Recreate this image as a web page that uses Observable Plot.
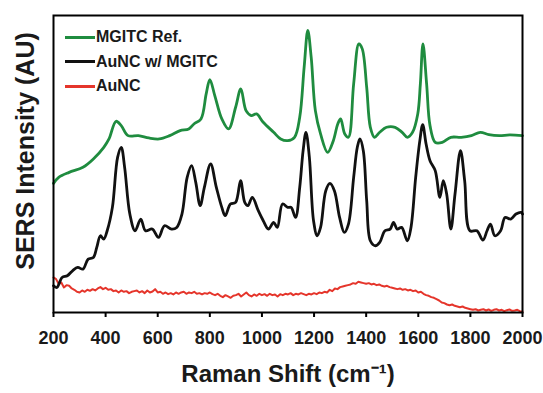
<!DOCTYPE html>
<html>
<head>
<meta charset="utf-8">
<script src="https://cdn.jsdelivr.net/npm/d3@7"></script>
<script src="https://cdn.jsdelivr.net/npm/@observablehq/plot@0.6"></script>
<style>
  html, body { margin: 0; padding: 0; background: #fff; }
  #wrap { position: relative; width: 543px; height: 393px; overflow: hidden; font-family: "Liberation Sans", Arial, sans-serif; }
  #legend { position: absolute; left: 65px; top: 25px; }
  .row { display: flex; align-items: center; height: 24.5px; font-size: 16px; font-weight: bold; color: #1a1a1a; }
  .sw { width: 30px; height: 3px; margin-right: 1px; }
</style>
</head>
<body>
<div id="wrap"><div id="legend"></div></div>
<script>
// Tick labels
const xTicks = [200, 400, 600, 800, 1000, 1200, 1400, 1600, 1800, 2000];
const seriesNames = ["MGITC Ref.", "AuNC w/ MGITC", "AuNC"];
const seriesColors = ["#1f8c3f", "#111111", "#e5352b"];

// MGITC Ref. (green)
const greenX = [200,220,260,313,353,393,413,440,460,486,526,566,606,646,686,719,739,766,786,800,819,846,872,899,919,939,959,979,1005,1045,1072,1099,1125,1145,1162,1176,1189,1205,1225,1252,1274,1291,1302,1318,1332,1352,1372,1385,1402,1416,1432,1452,1478,1511,1538,1558,1578,1598,1608,1618,1632,1645,1665,1692,1725,1765,1804,1838,1871,1911,1951,2000];
const greenY = [387,405,420,435,460,495,520,573,560,530,530,523,520,530,545,550,565,580,655,698,650,580,550,615,670,605,590,595,570,540,520,515,525,585,735,845,765,605,535,480,515,565,580,535,525,685,805,790,675,555,525,540,555,555,540,525,540,595,685,805,685,560,510,510,525,525,530,540,533,530,532,530];

// AuNC w/ MGITC (black)
const blackX = [200,213,233,253,273,293,313,333,353,366,380,393,406,426,446,460,473,493,513,535,553,579,603,626,653,673,693,713,730,746,763,779,803,825,846,859,879,899,918,934,946,963,986,1005,1025,1045,1059,1079,1099,1112,1129,1145,1158,1169,1182,1198,1212,1225,1245,1261,1278,1298,1316,1332,1352,1366,1376,1389,1402,1416,1435,1452,1472,1492,1505,1519,1536,1558,1572,1590,1606,1617,1630,1645,1665,1683,1696,1709,1725,1741,1762,1778,1798,1825,1848,1864,1877,1894,1916,1933,1955,1975,1995,2000];
const blackY = [80,75,105,110,125,135,130,160,165,195,230,220,245,315,465,495,435,295,245,280,245,250,225,260,250,255,295,405,440,390,320,375,445,375,315,290,325,330,395,330,320,345,305,275,250,270,255,325,315,315,285,375,485,540,465,275,230,255,365,387,365,285,240,265,405,495,520,485,335,215,200,210,245,250,270,250,255,215,255,405,515,563,505,455,425,345,395,355,250,355,485,395,245,245,217,245,265,230,245,285,280,295,300,295];

// AuNC (red)
const redX = [200,210,220,230,240,250,260,270,280,290,300,310,320,330,340,350,360,370,380,390,400,410,420,430,440,450,460,470,480,490,500,510,520,530,540,550,560,570,580,590,600,610,620,630,640,650,660,670,680,690,700,710,720,730,740,750,760,770,780,790,800,810,820,830,840,850,860,870,880,890,900,910,920,930,940,950,960,970,980,990,1000,1010,1020,1030,1040,1050,1060,1070,1080,1090,1100,1110,1120,1130,1140,1150,1160,1170,1180,1190,1200,1210,1220,1230,1240,1250,1260,1270,1280,1290,1300,1310,1320,1330,1340,1350,1360,1370,1380,1390,1400,1410,1420,1430,1440,1450,1460,1470,1480,1490,1500,1510,1520,1530,1540,1550,1560,1570,1580,1590,1600,1610,1620,1630,1640,1650,1660,1670,1680,1690,1700,1710,1720,1730,1740,1750,1760,1770,1780,1790,1800,1810,1820,1830,1840,1850,1860,1870,1880,1890,1900,1910,1920,1930,1940,1950,1960,1970,1980,1990,2000];
const redY = [105,100,85,90,75,82,80,72,68,62,60,66,62,68,65,70,66,72,76,70,74,68,70,64,66,60,66,62,64,58,62,64,66,60,64,58,66,60,63,70,60,62,56,60,55,58,54,60,56,60,62,56,60,58,62,56,58,54,58,56,60,55,52,56,50,46,52,48,44,50,52,56,48,54,60,52,48,54,50,56,52,55,50,56,52,54,48,55,52,56,54,58,52,56,54,58,55,52,56,54,58,55,60,58,62,60,68,64,72,70,76,78,80,82,84,88,86,92,90,88,86,88,84,86,82,84,80,78,80,76,74,72,70,72,68,70,66,68,64,66,60,62,56,52,50,46,44,40,36,30,28,24,22,24,20,18,16,18,14,12,10,8,10,6,8,10,6,9,5,8,10,6,8,4,7,9,5,6,8,4,3];

const toRows = (xs, ys) => xs.map((x, i) => ({x, y: ys[i]}));
const green = toRows(greenX, greenY);
const black = toRows(blackX, blackY);
const red = toRows(redX, redY);

const chart = Plot.plot({
  width: 543,
  height: 393,
  marginLeft: 53,
  marginRight: 21,
  marginTop: 15,
  marginBottom: 81,
  style: {fontFamily: "'Liberation Sans', Arial, sans-serif", background: "transparent", overflow: "visible"},
  x: {domain: [200, 2000]},
  y: {domain: [0, 890], axis: null},
  marks: [
    Plot.line(red, {x: "x", y: "y", stroke: seriesColors[2], strokeWidth: 2}),
    Plot.line(black, {x: "x", y: "y", stroke: seriesColors[1], strokeWidth: 2.8, curve: "catmull-rom"}),
    Plot.line(green, {x: "x", y: "y", stroke: seriesColors[0], strokeWidth: 2.8, curve: "catmull-rom"}),
    Plot.frame({stroke: "#000", strokeWidth: 2}),
    Plot.axisX({ticks: xTicks, tickSize: 5, tickPadding: 14, strokeWidth: 2, fontSize: 18, fontWeight: "bold", fill: "#1a1a1a", tickFormat: d => String(d), label: null}),
    Plot.text(["Raman Shift (cm\u207B\u00B9)"], {frameAnchor: "bottom", dy: 69, fontSize: 24, fontWeight: "bold", fill: "#1a1a1a", text: d => d}),
    Plot.text(["SERS Intensity (AU)"], {frameAnchor: "left", dx: -28, dy: -13, rotate: -90, textAnchor: "middle", fontSize: 25, fontWeight: "bold", fill: "#1a1a1a", text: d => d})
  ]
});
const wrap = document.getElementById("wrap");
wrap.insertBefore(chart, wrap.firstChild);

const legend = document.getElementById("legend");
seriesNames.forEach((name, i) => {
  const row = document.createElement("div");
  row.className = "row";
  const sw = document.createElement("div");
  sw.className = "sw";
  sw.style.background = seriesColors[i];
  const t = document.createElement("span");
  t.textContent = name;
  row.appendChild(sw);
  row.appendChild(t);
  legend.appendChild(row);
});
</script>
</body>
</html>
